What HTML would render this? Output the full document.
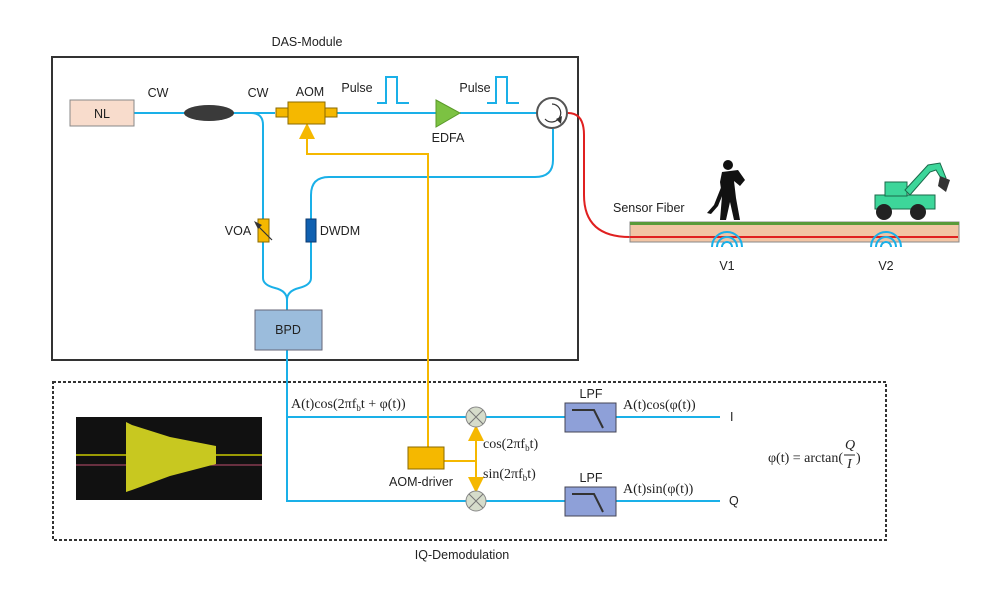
<!DOCTYPE html>
<html><head><meta charset="utf-8"><style>
body{margin:0;background:#fff}
svg text{font-family:"Liberation Sans",sans-serif;font-size:12.5px;fill:#222}
.m{font-family:"Liberation Serif",serif;font-size:14px}
</style></head><body>
<svg width="997" height="588" viewBox="0 0 997 588" xmlns="http://www.w3.org/2000/svg">
<defs>
<marker id="ya" markerWidth="8" markerHeight="8" refX="4" refY="4" orient="auto"><path d="M0,0 L8,4 L0,8Z" fill="#f5b800"/></marker>
</defs>
<rect x="52" y="57" width="526" height="303" fill="none" stroke="#333" stroke-width="2"/>
<text x="307" y="46" text-anchor="middle">DAS-Module</text>
<rect x="53" y="382" width="833" height="158" fill="none" stroke="#333" stroke-width="2" stroke-dasharray="3,2"/>
<text x="462" y="559" text-anchor="middle">IQ-Demodulation</text>

<g fill="none" stroke="#1ab0e8" stroke-width="2">
<path d="M134,113 H275"/>
<path d="M337,113 H436"/><path d="M460,113 H537"/>
<path d="M234,113 H251 Q263,113 263,125 V278 Q263,285 275,288 Q287,291 287,300 M311,195 V278 Q311,285 299,288 Q287,291 287,300 V310"/>
<path d="M311,195 Q311,177 329,177 H535 Q553,177 553,160 V129"/>
<path d="M287,350 V501 H466 M486,501 H565 M616,501 H720"/>
<path d="M287,417 H466 M486,417 H565 M616,417 H720"/>
<path d="M377,103 H386 V77 H397 V103 H409"/>
<path d="M487,103 H496 V77 H507 V103 H519"/>
</g>
<g fill="none" stroke="#f5b800" stroke-width="2">
<path d="M428,447 V154 H307 V131" marker-end="url(#ya)"/>
<path d="M444,461 H476"/>
<path d="M476,461 V433" marker-end="url(#ya)"/>
<path d="M476,461 V485" marker-end="url(#ya)"/>
</g>
<path d="M568,113 Q584,113 584,135 V195 Q584,237 630,237 H958" fill="none" stroke="#e02020" stroke-width="2"/>
<rect x="70" y="100" width="64" height="26" fill="#f8dccc" stroke="#888"/>
<text x="102" y="118" text-anchor="middle">NL</text>
<ellipse cx="209" cy="113" rx="25" ry="8" fill="#3a3a3a"/>
<rect x="276" y="108" width="12" height="9" fill="#f5b800" stroke="#8a6a00"/>
<rect x="325" y="108" width="12" height="9" fill="#f5b800" stroke="#8a6a00"/>
<rect x="288" y="102" width="37" height="22" fill="#f5b800" stroke="#8a6a00"/>
<path d="M436,100 L460,113 L436,127Z" fill="#7cc242" stroke="#5a9a2a"/>
<circle cx="552" cy="113" r="15" fill="#fff" stroke="#555" stroke-width="2"/>
<path d="M552,104 A9,9 0 1 1 545,119" fill="none" stroke="#333" stroke-width="1.2"/>
<path d="M556,119 L562,116 L561,124Z" fill="#333"/>
<rect x="258" y="219" width="11" height="23" fill="#f5b800" stroke="#8a6a00"/>
<path d="M272,240 L256,224" stroke="#333" stroke-width="1.2"/><path d="M254,221 L262,225 L258,229Z" fill="#333"/>
<rect x="306" y="219" width="10" height="23" fill="#1060b0" stroke="#0a3a70"/>
<rect x="255" y="310" width="67" height="40" fill="#9bbcdc" stroke="#667"/>
<text x="288" y="334" text-anchor="middle">BPD</text>
<text x="158" y="97" text-anchor="middle">CW</text>
<text x="258" y="97" text-anchor="middle">CW</text>
<text x="310" y="96" text-anchor="middle">AOM</text>
<text x="357" y="92" text-anchor="middle">Pulse</text>
<text x="475" y="92" text-anchor="middle">Pulse</text>
<text x="448" y="142" text-anchor="middle">EDFA</text>
<text x="238" y="235" text-anchor="middle">VOA</text>
<text x="340" y="235" text-anchor="middle">DWDM</text>
<rect x="630" y="222" width="329" height="20" fill="#f2c4a4" stroke="#888"/>
<rect x="630" y="222" width="329" height="3" fill="#5a9a3a"/>
<path d="M630,237 H958" stroke="#e02020" stroke-width="2"/>
<text x="613" y="212">Sensor Fiber</text>
<g fill="#111">
<circle cx="728" cy="165" r="5"/>
<path d="M722,172 L738,170 L745,180 L740,186 L734,181 L736,198 L740,220 L734,220 L730,202 L726,220 L720,220 L722,196 L720,182Z"/>
<path d="M724,180 L714,205 L707,213 L711,214 L718,206 L727,184Z"/>
</g>
<g>
<rect x="875" y="195" width="60" height="14" fill="#3dd69a" stroke="#1a6a4a"/>
<rect x="885" y="182" width="22" height="14" fill="#3dd69a" stroke="#1a6a4a"/>
<path d="M905,190 L928,165 L940,163 L946,178 L942,180 L936,170 L930,172 L910,195Z" fill="#3dd69a" stroke="#1a6a4a"/>
<path d="M940,176 L950,180 L946,192 L938,186Z" fill="#333"/>
<circle cx="884" cy="212" r="8" fill="#222"/><circle cx="918" cy="212" r="8" fill="#222"/>
</g>
<g fill="none" stroke="#1ab0e8" stroke-width="2">
<path d="M722,247 A5,5 0 0 1 732,247 M717,247 A10,10 0 0 1 737,247 M712,247 A15,15 0 0 1 742,247"/>
<path d="M881,247 A5,5 0 0 1 891,247 M876,247 A10,10 0 0 1 896,247 M871,247 A15,15 0 0 1 901,247"/>
</g>
<text x="727" y="270" text-anchor="middle">V1</text>
<text x="886" y="270" text-anchor="middle">V2</text>
<rect x="76" y="417" width="186" height="83" fill="#111"/>
<path d="M76,455 H262" stroke="#c8c800" stroke-width="1.5"/>
<path d="M76,465 H262" stroke="#c05070" stroke-width="1"/>
<path d="M126,422 L132,425 L170,437 L216,446 L216,464 L170,476 L132,490 L126,492Z" fill="#c8c820"/>
<g fill="#d6dccb" stroke="#888">
<circle cx="476" cy="417" r="10"/><circle cx="476" cy="501" r="10"/>
</g>
<path d="M469,410 L483,424 M483,410 L469,424 M469,494 L483,508 M483,494 L469,508" stroke="#777"/>
<rect x="408" y="447" width="36" height="22" fill="#f5b800" stroke="#8a6a00"/>
<text x="421" y="486" text-anchor="middle">AOM-driver</text>
<rect x="565" y="403" width="51" height="29" fill="#8ea0d8" stroke="#445"/>
<rect x="565" y="487" width="51" height="29" fill="#8ea0d8" stroke="#445"/>
<path d="M572,410 H594 L603,428 M572,494 H594 L603,512" fill="none" stroke="#333" stroke-width="2"/>
<text x="591" y="398" text-anchor="middle">LPF</text>
<text x="591" y="482" text-anchor="middle">LPF</text>
<text x="730" y="421">I</text>
<text x="729" y="505">Q</text>
<text class="m" x="291" y="408">A(t)cos(2πf<tspan font-size="9" dy="3">b</tspan><tspan dy="-3">t + φ(t))</tspan></text>
<text class="m" x="483" y="448">cos(2πf<tspan font-size="9" dy="3">b</tspan><tspan dy="-3">t)</tspan></text>
<text class="m" x="483" y="478">sin(2πf<tspan font-size="9" dy="3">b</tspan><tspan dy="-3">t)</tspan></text>
<text class="m" x="623" y="409">A(t)cos(φ(t))</text>
<text class="m" x="623" y="493">A(t)sin(φ(t))</text>
<text class="m" x="843" y="462" text-anchor="end">φ(t) = arctan(</text>
<text class="m" x="845" y="449" font-style="italic" font-size="12">Q</text>
<path d="M844,455 H855" stroke="#222"/>
<text class="m" x="847" y="468" font-style="italic" font-size="12">I</text>
<text class="m" x="856" y="462">)</text>
</svg>
</body></html>
